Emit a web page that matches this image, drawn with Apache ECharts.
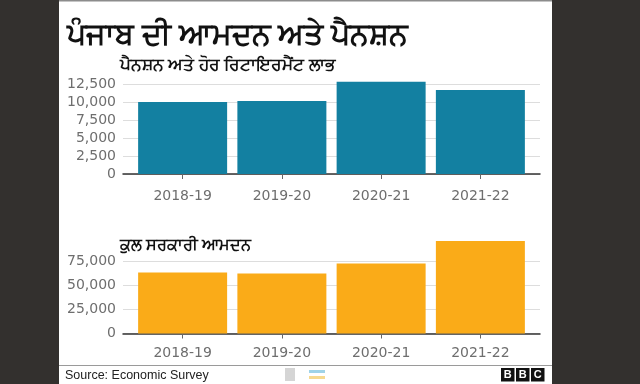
<!DOCTYPE html>
<html><head><meta charset="utf-8">
<script src="https://cdn.jsdelivr.net/npm/echarts@6/dist/echarts.min.js"></script>
<style>html,body{margin:0;padding:0;background:#33302e}#c{width:640px;height:384px}</style>
</head><body><div id="c"></div>
<script>
const categories = ['2018-19', '2019-20', '2020-21', '2021-22'];
const pensionValues = [10000, 10150, 12800, 11650];
const revenueValues = [63000, 62000, 72300, 95700];
const pensionTicks = [0, 2500, 5000, 7500, 10000, 12500];
const revenueTicks = [0, 25000, 50000, 75000];
const titleText = 'ਪੰਜਾਬ ਦੀ ਆਮਦਨ ਅਤੇ ਪੈਨਸ਼ਨ';
const topSubtitle = 'ਪੈਨਸ਼ਨ ਅਤੇ ਹੋਰ ਰਿਟਾਇਰਮੈਂਟ ਲਾਭ';
const bottomSubtitle = 'ਕੁਲ ਸਰਕਾਰੀ ਆਮਦਨ';
const sourceText = 'Source: Economic Survey';
const logoLetters = ['B', 'B', 'C'];

const chart = echarts.init(document.getElementById('c'));
const labelFont = 'DejaVu Sans';
const fmt = v => Number(v).toLocaleString('en-US');

function outerY(ticks, gi) {
  return {
    type: 'value', gridIndex: gi, min: ticks[0], max: ticks[ticks.length - 1],
    interval: ticks[1] - ticks[0],
    axisLine: {show: false}, axisTick: {show: false},
    axisLabel: {color: '#6e6e6e', fontFamily: labelFont, fontSize: 14, margin: 7, formatter: fmt},
    splitLine: {lineStyle: {color: '#dddddd', width: 1}}
  };
}
function innerY(ticks, gi) {
  return {
    type: 'value', gridIndex: gi, min: ticks[0], max: ticks[ticks.length - 1],
    show: false, splitLine: {show: false}
  };
}
function outerX(gi) {
  return {
    type: 'value', gridIndex: gi, min: 0, max: 1,
    axisLine: {show: true, onZero: false, lineStyle: {color: '#333', width: 1.5}},
    axisTick: {show: false}, axisLabel: {show: false}, splitLine: {show: false}
  };
}
function innerX(gi, margin) {
  return {
    type: 'category', gridIndex: gi, data: categories,
    axisLine: {show: false},
    axisTick: {show: true, alignWithLabel: true, length: 5, lineStyle: {color: '#666'}},
    axisLabel: {color: '#6e6e6e', fontFamily: labelFont, fontSize: 14, margin: margin}
  };
}

const option = {
  backgroundColor: '#33302e',
  animation: false,
  graphic: [
    {type: 'rect', z: -10, shape: {x: 59, y: 0, width: 493, height: 384}, style: {fill: '#ffffff'}},
    {type: 'rect', z: -9, shape: {x: 59, y: 0, width: 493, height: 1.5}, style: {fill: '#8c8c8c'}},
    {type: 'text', left: 67, top: 20, style: {text: titleText, font: 'bold 30px "Noto Sans", sans-serif', fill: '#111'}},
    {type: 'text', left: 120, top: 57, style: {text: topSubtitle, font: 'bold 17px "Noto Sans", sans-serif', fill: '#111'}},
    {type: 'text', left: 120, top: 237, style: {text: bottomSubtitle, font: 'bold 16px "Noto Sans", sans-serif', fill: '#111'}},
    {type: 'line', shape: {x1: 59, y1: 365.5, x2: 552, y2: 365.5}, style: {stroke: '#9a9a9a', lineWidth: 1}},
    {type: 'text', left: 65, top: 369, style: {text: sourceText, font: '12.5px "Liberation Sans", Arial, sans-serif', fill: '#222'}},
    {type: 'rect', shape: {x: 285, y: 368, width: 10, height: 13}, style: {fill: '#d5d5d5'}},
    {type: 'rect', shape: {x: 309, y: 370, width: 16, height: 3}, style: {fill: '#9fd3e8'}},
    {type: 'rect', shape: {x: 309, y: 376, width: 16, height: 3}, style: {fill: '#f6d98f'}},
    ...logoLetters.map((ch, i) => ({
      type: 'group', left: 501 + i * 15, top: 368,
      children: [
        {type: 'rect', shape: {x: 0, y: 0, width: 13.5, height: 13.5}, style: {fill: '#111'}},
        {type: 'text', style: {text: ch, x: 6.75, y: 7, align: 'center', verticalAlign: 'middle', font: 'bold 11px "Liberation Sans", Arial, sans-serif', fill: '#fff'}}
      ]
    }))
  ],
  grid: [
    {left: 123, right: 100, top: 84, height: 90},
    {left: 133, right: 110, top: 84, height: 90},
    {left: 123, right: 100, top: 261, height: 72.5},
    {left: 133, right: 110, top: 261, height: 72.5}
  ],
  xAxis: [outerX(0), innerX(1, 15), outerX(2), innerX(3, 13)],
  yAxis: [outerY(pensionTicks, 0), innerY(pensionTicks, 1), outerY(revenueTicks, 2), innerY(revenueTicks, 3)],
  series: [
    {type: 'bar', xAxisIndex: 1, yAxisIndex: 1, data: pensionValues, barWidth: 89, clip: false,
     itemStyle: {color: '#1380A1'}, z: 3},
    {type: 'bar', xAxisIndex: 3, yAxisIndex: 3, data: revenueValues, barWidth: 89, clip: false,
     itemStyle: {color: '#FAAB18'}, z: 3}
  ]
};
chart.setOption(option);
</script>
</body></html>
